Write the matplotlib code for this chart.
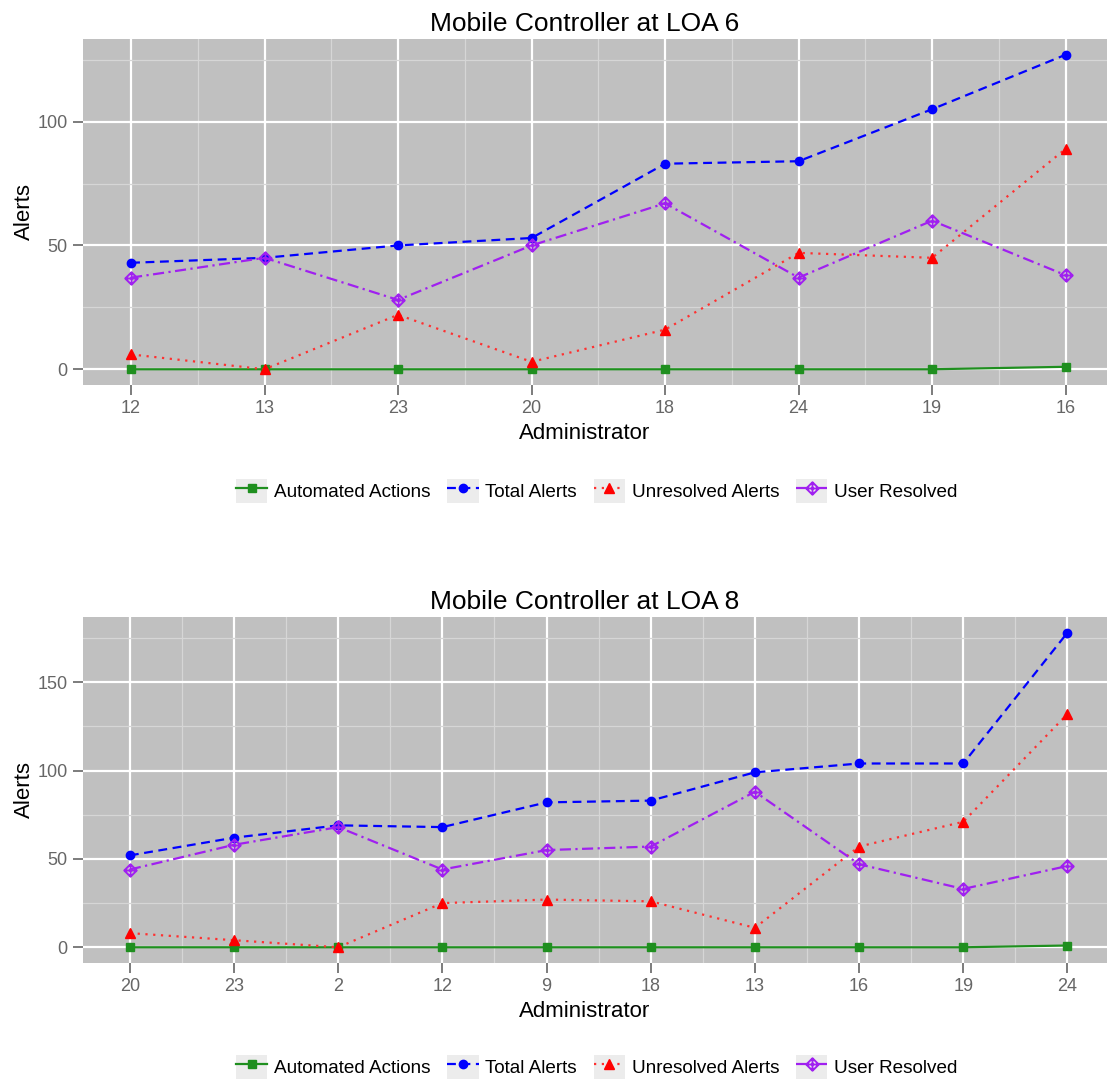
import matplotlib
matplotlib.use("Agg")
import matplotlib.pyplot as plt
import numpy as np
from matplotlib.path import Path
from matplotlib.patches import Rectangle
from matplotlib.legend_handler import HandlerTuple
from matplotlib.ticker import MultipleLocator

plt.rcParams['font.family'] = ['Liberation Sans', 'DejaVu Sans']

# LOA 6
admins6 = ['12', '13', '23', '20', '18', '24', '19', '16']
automated6 = [0, 0, 0, 0, 0, 0, 0, 1]
total6 = [43, 45, 50, 53, 83, 84, 105, 127]
unresolved6 = [6, 0, 22, 3, 16, 47, 45, 89]
user6 = [37, 45, 28, 50, 67, 37, 60, 38]

# LOA 8
admins8 = ['20', '23', '2', '12', '9', '18', '13', '16', '19', '24']
automated8 = [0, 0, 0, 0, 0, 0, 0, 0, 0, 1]
total8 = [52, 62, 69, 68, 82, 83, 99, 104, 104, 178]
unresolved8 = [8, 4, 0, 25, 27, 26, 11, 57, 71, 132]
user8 = [44, 58, 68, 44, 55, 57, 88, 47, 33, 46]

# diamond with a plus inside (ggplot shape 9)
diamond_plus = Path(
    [(0, 1), (1, 0), (0, -1), (-1, 0), (0, 1), (0, 1), (0, -1), (-1, 0), (1, 0)],
    [Path.MOVETO, Path.LINETO, Path.LINETO, Path.LINETO, Path.CLOSEPOLY,
     Path.MOVETO, Path.LINETO, Path.MOVETO, Path.LINETO])

green = '#1f8f1f'
purple = '#A020F0'


def panel(ax, title, admins, auto, total, unres, user, xpad):
    x = np.arange(len(admins))
    ax.set_facecolor('#c0c0c0')
    ax.plot(x, auto, color=green, ls='-', lw=1.6, marker='s', ms=6, label='Automated Actions')
    ax.plot(x, total, color='blue', ls=(0, (4, 2.5)), lw=1.6, marker='o', ms=6, label='Total Alerts')
    ax.plot(x, unres, color='#ff3030', ls=(0, (1, 2.5)), lw=1.6, marker='^', ms=7,
            mfc='red', mec='red', label='Unresolved Alerts')
    ax.plot(x, user, color=purple, ls=(0, (5, 2, 1, 2)), lw=1.6, marker=diamond_plus, ms=9,
            mfc='none', mec=purple, mew=1.4, label='User Resolved')
    ymax = max(total)
    ax.set_ylim(-0.05 * ymax, 1.05 * ymax)
    ax.set_xlim(xpad[0], len(admins) - 1 + xpad[1])
    ax.set_xticks(x)
    ax.set_xticklabels(admins)
    ax.yaxis.set_major_locator(MultipleLocator(50))
    ax.yaxis.set_minor_locator(MultipleLocator(25))
    ax.set_xticks(x[:-1] + 0.5, minor=True)
    ax.grid(True, which='major', color='white', lw=1.6)
    ax.grid(True, which='minor', color='#d6d6d6', lw=0.9)
    ax.set_axisbelow(True)
    for s in ax.spines.values():
        s.set_visible(False)
    ax.tick_params(which='major', length=7, width=1.2, color='#666666', labelcolor='#666666',
                   labelsize=13, pad=4)
    ax.tick_params(which='minor', length=0)
    ax.set_title(title, fontsize=19, pad=6, x=0.49)
    ax.set_xlabel('Administrator', fontsize=16, labelpad=4, x=0.49)
    ax.set_ylabel('Alerts', fontsize=16, labelpad=2)


fig = plt.figure(figsize=(11.09, 10.82), dpi=100)
ax1 = fig.add_axes([83 / 1109, 1 - 385 / 1082, 1024 / 1109, 346 / 1082])
ax2 = fig.add_axes([83 / 1109, 1 - 963 / 1082, 1024 / 1109, 346 / 1082])

panel(ax1, 'Mobile Controller at LOA 6', admins6, automated6, total6, unresolved6, user6, (-0.36, 0.31))
panel(ax2, 'Mobile Controller at LOA 8', admins8, automated8, total8, unresolved8, user8, (-0.45, 0.38))

for ax, yc in [(ax1, 491), (ax2, 1067)]:
    h, l = ax.get_legend_handles_labels()
    keyed = [(Rectangle((0, 0), 1, 1, facecolor='#ececec', edgecolor='none'), hh) for hh in h]
    fig.legend(keyed, l, loc='center', bbox_to_anchor=(0.538, 1 - yc / 1082), ncol=4,
               frameon=False, fontsize=13.6, handlelength=1.65, handleheight=1.65,
               columnspacing=0.9, handletextpad=0.35,
               handler_map={tuple: HandlerTuple(ndivide=1)})

fig.savefig('out.png', dpi=100)
